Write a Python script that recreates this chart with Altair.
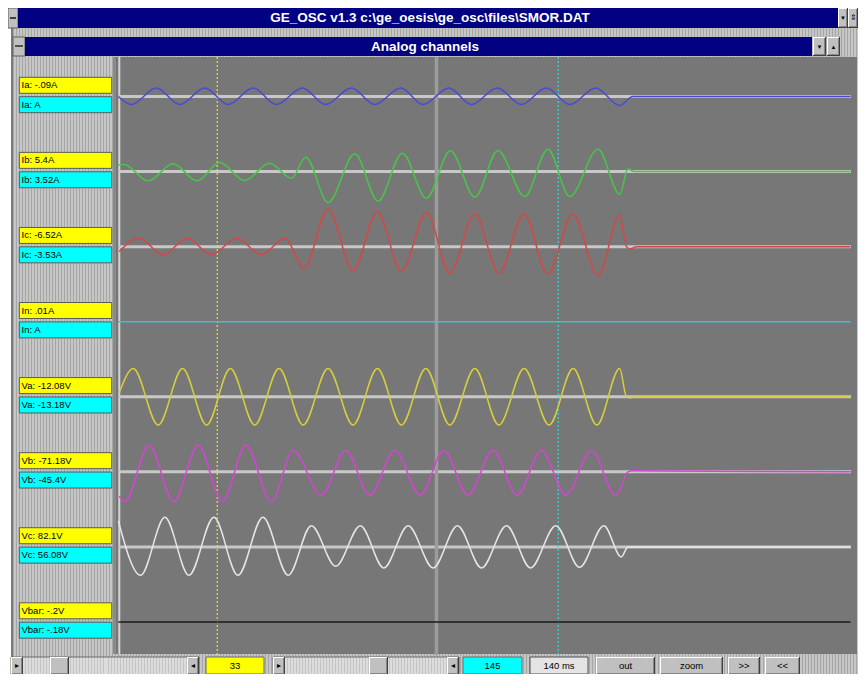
import altair as alt
import pandas as pd

# ---------------- data ----------------
channels = ["Ia", "Ib", "Ic", "In", "Va", "Vb", "Vc", "Vbar"]
channel_colors = ["#4a4ad2", "#46c646", "#d24848", "#3cc4c4", "#d6ce3c", "#d246d2", "#e6e6e6", "#1a1a1a"]
value_labels = ["Ia: -.09A", "Ib: 5.4A", "Ic: -6.52A", "In: .01A",
                "Va: -12.08V", "Vb: -71.18V", "Vc: 82.1V", "Vbar: -.2V"]
cursor_labels = ["Ia: A", "Ib: 3.52A", "Ic: -3.53A", "In: A",
                 "Va: -13.18V", "Vb: -45.4V", "Vc: 56.08V", "Vbar: -.18V"]

# waveform turning points: sample index, value (divisions, + = up)
ia_s = [0.5, 4.8, 13.0, 20.7, 28.9, 36.6, 44.8, 52.4, 61.0, 68.6, 77.1, 84.7, 93.3, 100.6,
        109.1, 116.5, 125.0, 132.9, 141.1, 148.8, 157.3, 165.2, 169.5, 241]
ia_v = [0, -0.8, 0.85, -0.8, 0.85, -0.8, 0.85, -0.8, 0.85, -0.8, 0.85, -0.8, 0.85, -0.8,
        0.85, -0.8, 0.85, -0.8, 0.85, -0.8, 0.85, -0.9, 0, 0]

ib_s = [0.5, 2.4, 10.3, 18.5, 26.4, 33.8, 42.0, 50.2, 57.4, 62.1, 69.4, 78.2, 85.8, 93.8,
        101.7, 109.6, 117.6, 125.2, 134.0, 141.6, 148.8, 158.1, 165.2, 167.9, 170.1, 241]
ib_v = [0.65, 0.7, -0.93, 0.77, -0.93, 0.9, -0.9, 0.84, -0.66, 1.44, -3.1, 1.77, -2.95, 1.84,
        -2.67, 2.07, -2.57, 2.1, -2.5, 2.24, -2.5, 2.24, -2.27, 0.25, 0, 0]

ic_s = [0.8, 7.3, 15.2, 23.1, 31.1, 39.3, 47.5, 55.2, 61.5, 69.4, 77.6, 85.6, 93.5, 101.7,
        109.4, 117.6, 125.5, 133.8, 141.5, 149.8, 158.1, 165.2, 167.4, 168.5, 170.7, 241]
ic_v = [-0.5, 0.84, -0.83, 0.84, -0.83, 0.84, -0.8, 0.84, -2.16, 3.77, -2.4, 3.5, -2.5, 3.44,
        -2.63, 3.27, -2.63, 3.27, -2.73, 3.27, -2.9, 3.17, 0, -0.23, 0, 0]

in_s = [0.5, 241]
in_v = [0, 0]

va_s = [0.8, 5.4, 13.6, 21.6, 29.5, 37.3, 45.3, 53.3, 61.2, 69.4, 77.6, 85.6, 93.5, 101.5,
        109.4, 117.6, 125.5, 133.8, 142.0, 149.9, 157.7, 165.2, 167.4, 168.6, 170.5, 241]
va_v = [0.4, 2.83, -2.83, 2.83, -2.83, 2.83, -2.83, 2.83, -2.83, 2.83, -2.83, 2.83, -2.83, 2.83,
        -2.83, 2.83, -2.83, 2.83, -2.83, 2.83, -2.83, 2.83, 0, -0.1, 0, 0]

vb_s = [0.8, 2.6, 10.6, 18.7, 26.7, 34.7, 42.4, 50.8, 57.9, 67.2, 75.2, 83.1, 91.3, 99.7,
        107.4, 115.4, 123.6, 131.5, 139.5, 147.5, 155.9, 163.9, 167.9, 169.2, 241]
vb_v = [-2.43, -3.0, 2.67, -3.0, 2.67, -3.0, 2.67, -3.0, 2.14, -2.33, 2.14, -2.33, 2.14, -2.33,
        2.14, -2.33, 2.14, -2.33, 2.14, -2.33, 2.14, -2.4, 0, 0.1, 0]

vc_s = [0.5, 7.8, 15.8, 23.7, 31.9, 39.8, 48.0, 56.3, 63.9, 71.9, 80.0, 87.7, 95.7, 103.9,
        111.9, 119.8, 128.0, 135.9, 144.2, 152.0, 160.0, 165.7, 167.9, 241]
vc_v = [2.6, -2.84, 2.96, -2.84, 2.96, -2.84, 2.96, -2.84, 2.13, -1.94, 2.13, -2.1, 2.13, -2.1,
        2.13, -2.1, 2.13, -2.1, 2.13, -2.04, 2.13, -1.0, 0, 0]

vbar_s = [0.5, 241]
vbar_v = [0, 0]

cursor_samples = [33, 105, 145]   # left cursor, marker, right cursor
ms_per_sample = 1.25

# ---------------- tables ----------------
series = [(ia_s, ia_v), (ib_s, ib_v), (ic_s, ic_v), (in_s, in_v),
          (va_s, va_v), (vb_s, vb_v), (vc_s, vc_v), (vbar_s, vbar_v)]
SPACING = 7.507  # channel spacing in divisions
frames = []
for i, (s, v) in enumerate(series):
    d = pd.DataFrame({"s": s, "v": v})
    d["ch"] = channels[i]
    d["yy"] = i * SPACING - d["v"]
    frames.append(d)
wave = pd.concat(frames, ignore_index=True)

chan = pd.DataFrame({"ch": channels, "idx": range(8), "lab1": value_labels, "lab2": cursor_labels})
chan["base"] = chan["idx"] * SPACING
base_df = chan[~chan["ch"].isin(["In", "Vbar"])]

cur_df = pd.DataFrame({"s": cursor_samples})

W, H = 850, 666
xs = alt.Scale(domain=[0, 241], range=[108.8, 842.5], nice=False, zero=False)
ys = alt.Scale(domain=[0, 7 * SPACING], range=[88.5, 614], nice=False, zero=False)

ONE = pd.DataFrame({"k": [0]})
FONT = "Liberation Sans"


def box(x0, y0, x1, y1, fill, stroke=None):
    kw = dict(fill=fill)
    if stroke:
        kw.update(stroke=stroke, strokeWidth=1)
    return alt.Chart(ONE).mark_rect(**kw).encode(
        x=alt.value(x0 - 8), x2=alt.value(x1 - 8), y=alt.value(y0 - 8), y2=alt.value(y1 - 8))


def txt(x, y, s, color="black", size=9.5, bold=False, align="center", font=FONT):
    return alt.Chart(ONE).mark_text(text=s, color=color, fontSize=size, font=font,
                                    fontWeight="bold" if bold else "normal",
                                    align=align, baseline="middle").encode(
        x=alt.value(x - 8), y=alt.value(y - 8))


def raised(x0, y0, x1, y1, face="#c0c0c0"):
    return [box(x0, y0, x1, y1, "#404040"), box(x0, y0, x1 - 1, y1 - 1, "#ffffff"),
            box(x0 + 1, y0 + 1, x1 - 1, y1 - 1, "#868686"), box(x0 + 1, y0 + 1, x1 - 2, y1 - 2, face)]


def stripes(width_px, a="#c6c6c6", b="#a6a6a6", period=3):
    n = max(1, round(width_px / period))
    stops = []
    for k in range(n):
        o0, o1, o2 = k / n, (k + 0.67) / n, (k + 1) / n
        stops += [alt.GradientStop(color=a, offset=o0), alt.GradientStop(color=a, offset=o1),
                  alt.GradientStop(color=b, offset=o1), alt.GradientStop(color=b, offset=o2)]
    return alt.Gradient(gradient="linear", stops=stops, x1=0, x2=1, y1=0, y2=0)


layers = []
# window frame
layers.append(box(11, 28, 866, 700, stripes(855)))
layers.append(box(11, 28, 13, 700, "#7a7a7a"))
# title bar
layers.append(box(8, 8, 18, 28, "#c0c0c0", "#606060"))
layers.append(box(10, 17, 16, 19, "#404040"))
layers.append(box(18, 8, 838, 28, "#000080"))
layers += raised(838, 8, 848, 28)
layers += raised(848, 8, 858, 28)
layers.append(txt(843, 18, "▼", size=6))
layers.append(txt(853, 18, "⇕", size=8))
layers.append(txt(430, 18, "GE_OSC  v1.3  c:\\ge_oesis\\ge_osc\\files\\SMOR.DAT", color="white",
                  size=13.5, bold=True))
# child window bar
layers.append(box(13, 37, 25, 56, "#c0c0c0", "#606060"))
layers.append(box(15, 45, 23, 47, "#505050"))
layers.append(box(25, 37, 812, 56, "#000080"))
layers += raised(813, 37, 826, 56)
layers += raised(827, 37, 840, 56)
layers.append(txt(819.5, 46.5, "▼", size=6))
layers.append(txt(833.5, 46.5, "▲", size=6))
layers.append(txt(425, 46.5, "Analog channels", color="white", size=13.5, bold=True))
# plot area
layers.append(box(113, 57, 116, 654, "#8a8a8a"))
layers.append(box(116, 57, 857, 654, "#777777"))
layers.append(alt.Chart(ONE).mark_rule(color="#d4d4d4", strokeWidth=2).encode(
    x=alt.value(111.3), y=alt.value(49), y2=alt.value(646)))

# channel baselines
layers.append(alt.Chart(base_df).mark_rule(color="#c8c8c8", strokeWidth=3).encode(
    y=alt.Y("base:Q", scale=ys, axis=None), x=alt.value(111), x2=alt.value(843)))

# cursors
layers.append(alt.Chart(cur_df.iloc[[1]]).mark_rule(color="#9c9c9c", strokeWidth=3.5).encode(
    x=alt.X("s:Q", scale=xs, axis=None), y=alt.value(49), y2=alt.value(647)))
layers.append(alt.Chart(cur_df.iloc[[0]]).mark_rule(color="#e2da3a", strokeWidth=1.3, strokeDash=[2, 2]).encode(
    x=alt.X("s:Q", scale=xs, axis=None), y=alt.value(49), y2=alt.value(647)))
layers.append(alt.Chart(cur_df.iloc[[2]]).mark_rule(color="#3cd0d0", strokeWidth=1.3, strokeDash=[2, 2]).encode(
    x=alt.X("s:Q", scale=xs, axis=None), y=alt.value(49), y2=alt.value(647)))

# waveforms
layers.append(alt.Chart(wave).mark_line(interpolate="monotone", strokeWidth=1.5).encode(
    x=alt.X("s:Q", scale=xs, axis=None),
    y=alt.Y("yy:Q", scale=ys, axis=None),
    color=alt.Color("ch:N", scale=alt.Scale(domain=channels, range=channel_colors), legend=None),
    order="s:Q"))

# channel label boxes
lab = alt.Chart(chan).transform_calculate(
    y1a="datum.base - 1.92", y1b="datum.base - 0.32", t1="datum.base - 1.12",
    y2a="datum.base + 0.02", y2b="datum.base + 1.62", t2="datum.base + 0.82")
layers.append(lab.mark_rect(fill="#ffff00", stroke="#5a5a5a", strokeWidth=1).encode(
    y=alt.Y("y1a:Q", scale=ys, axis=None), y2="y1b:Q", x=alt.value(11.3), x2=alt.value(103.7)))
layers.append(lab.mark_rect(fill="#00ffff", stroke="#5a5a5a", strokeWidth=1).encode(
    y=alt.Y("y2a:Q", scale=ys, axis=None), y2="y2b:Q", x=alt.value(11.3), x2=alt.value(103.7)))
layers.append(lab.mark_text(align="left", baseline="middle", fontSize=9.5, font=FONT, color="black").encode(
    y=alt.Y("t1:Q", scale=ys, axis=None), x=alt.value(13.5), text="lab1:N"))
layers.append(lab.mark_text(align="left", baseline="middle", fontSize=9.5, font=FONT, color="black").encode(
    y=alt.Y("t2:Q", scale=ys, axis=None), x=alt.value(13.5), text="lab2:N"))

# bottom control bar
for (x0, x1, tx0, tx1) in [(11, 199, 50, 69), (273, 459, 369, 388)]:
    layers.append(box(x0, 657, x1, 675, stripes(x1 - x0, "#dcdcdc", "#c4c4c4"), "#6a6a6a"))
    layers += raised(x0, 657, x0 + 12, 675)
    layers += raised(x1 - 12, 657, x1, 675)
    layers += raised(tx0, 657, tx1, 675)
    layers.append(txt(x0 + 6, 666, "▸", size=8))
    layers.append(txt(x1 - 6, 666, "◂", size=8))
layers.append(box(206, 657, 264, 674, "#ffff00", "#6a6a6a"))
layers.append(txt(235, 666, str(cursor_samples[0]), size=9.5))
layers.append(box(463, 657, 522, 674, "#00ffff", "#6a6a6a"))
layers.append(txt(492.5, 666, str(cursor_samples[2]), size=9.5))
layers.append(box(530, 657, 588, 674, "#e4e4e4", "#505050"))
layers.append(txt(559, 666, f"{(cursor_samples[2] - cursor_samples[0]) * ms_per_sample:.0f} ms", size=9.5))
for (x0, x1, t) in [(596, 655, "out"), (660, 723, "zoom"), (728, 760, ">>"), (765, 800, "<<")]:
    layers += raised(x0, 657, x1, 675)
    layers.append(txt((x0 + x1) / 2, 666, t, size=9.5))

chart = alt.layer(*layers).properties(
    width=W, height=H, autosize=alt.AutoSizeParams(type="none"), padding=0, background="white"
).configure_view(stroke=None)

chart.save("out.html", embed_options={"renderer": "svg", "actions": False})
